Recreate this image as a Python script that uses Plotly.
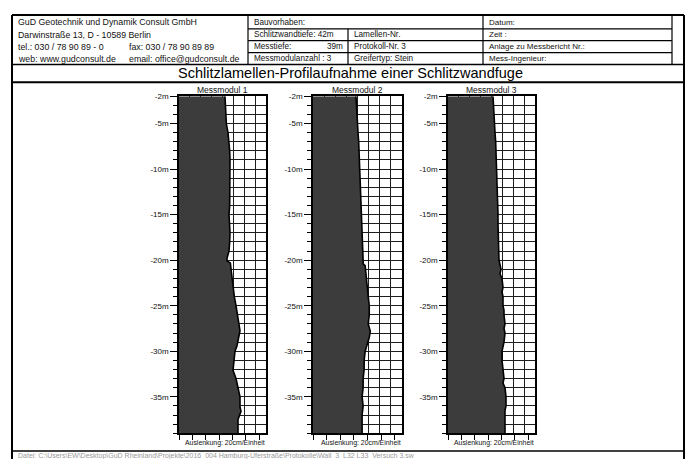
import plotly.graph_objects as go

# ---- measured profiles: depth [m] and wall deflection [cm] from the left reference edge ----
depth_m1 = [-2, -3, -4, -5, -6, -7, -8, -9, -10, -11, -12, -13, -14, -15, -16, -17, -18, -19,
            -19.8, -20.1, -20.3, -21, -22, -23, -24, -25, -26, -26.7, -27.2, -27.75, -28.3, -28.8,
            -29.4, -30, -31, -32.1, -33, -33.9, -35, -36.1, -36.6, -37.5, -38.3, -39]
defl_m1 = [69, 70, 70.5, 71, 73.5, 75, 76, 76.5, 76.5, 77, 76.5, 76.5, 76, 75, 76, 76.5, 76, 75,
           72, 72, 77, 78, 79.5, 81, 83, 85.5, 87.75, 88.5, 90, 91.5, 90, 88.5,
           87, 84, 82.5, 81, 85.5, 88.5, 91.5, 91.5, 93, 88.5, 88.5, 88.5]

depth_m2 = [-2, -3, -4, -5, -6, -7, -8, -9, -10, -11, -12, -13, -14, -15, -16, -17, -18, -19,
            -20, -20.4, -20.6, -21, -22, -23, -24, -25, -26, -27, -27.8, -28.5, -29.4, -30, -31,
            -32, -33, -34, -35, -36, -37, -38, -39]
defl_m2 = [63, 63.5, 64, 64.5, 66, 67, 67.5, 68.5, 69, 70, 70.5, 71, 71.5, 72, 72, 72.5, 73, 73,
           73.5, 73.5, 76.5, 77, 78, 79.5, 81, 82.5, 82.5, 81, 84, 82.5, 79.5, 76.5, 75,
           75, 73.5, 73.5, 72, 73.5, 72, 72, 72]

depth_m3 = [-2, -3, -4, -5, -6, -7, -8, -9, -10, -11, -12, -13, -14, -15, -16, -17, -18, -19,
            -20, -20.5, -21, -21.5, -22, -23, -23.5, -24, -25, -25.5, -26, -27, -27.5, -28, -29,
            -30, -31, -32, -33, -33.5, -34, -35, -36, -36.5, -37, -38, -39]
defl_m3 = [67.5, 68, 68.5, 69, 70.5, 71.5, 72, 73, 73.5, 74, 74, 74.5, 74.5, 75, 75, 75.5, 76, 76,
           76.5, 78, 79.5, 78, 81, 82.5, 81, 82.5, 82.5, 84, 84, 85.5, 84, 85.5, 84,
           81, 81, 82.5, 84, 82.5, 85.5, 87, 87, 85.5, 85.5, 85.5, 85.5]

modules = ["Messmodul 1", "Messmodul 2", "Messmodul 3"]
profiles = [(defl_m1, depth_m1), (defl_m2, depth_m2), (defl_m3, depth_m3)]

depth_ticks = [-2, -5, -10, -15, -20, -25, -30, -35]
depth_labels = ["-2m", "-5m", "-10m", "-15m", "-20m", "-25m", "-30m", "-35m"]
defl_ticks = [0, 20, 40, 60, 80, 100, 120]

header_left = [
    "GuD Geotechnik und Dynamik Consult GmbH",
    "Darwinstraße 13, D - 10589 Berlin",
    "tel.: 030 / 78 90 89 - 0",
    "web: www.gudconsult.de",
]
header_left2 = ["fax: 030 / 78 90 89 89", "email: office@gudconsult.de"]
header_mid = ["Bauvorhaben:", "Schlitzwandtiefe: 42m", "Messtiefe:", "Messmodulanzahl : 3"]
header_mid2 = ["Lamellen-Nr.", "Protokoll-Nr. 3", "Greifertyp: Stein"]
header_right = ["Datum:", "Zeit :", "Anlage zu Messbericht Nr.:", "Mess-Ingenieur:"]
title = "Schlitzlamellen-Profilaufnahme einer Schlitzwandfuge"
scale_note = "Auslenkung: 20cm/Einheit"
footer = ("Datei: C:\\Users\\EW\\Desktop\\GuD Rheinland\\Projekte\\2016_004 Hamburg-Uferstraße"
          "\\Protokolle\\Wall_3_L32 L33_Versuch 3.sw")

W, H = 689, 459
FONT = "Arial, Liberation Sans, sans-serif"


def px(x):
    return x / W


def py(y):
    return 1 - y / H


fig = go.Figure()

# plot panels (pixel extents of each panel)
panel_x = [(179, 266), (313, 402), (448, 535)]
panel_top, panel_bottom = 93, 433

for i, (name, (dx, dy)) in enumerate(zip(modules, profiles)):
    n = i + 1
    xa, ya = ("x" if n == 1 else f"x{n}"), ("y" if n == 1 else f"y{n}")
    fig.add_trace(go.Scatter(
        x=dx, y=dy, mode="lines", fill="tozerox", fillcolor="#3c3c3c",
        line=dict(color="black", width=1.6), xaxis=xa, yaxis=ya,
        showlegend=False, hoverinfo="skip"))
    x0, x1 = panel_x[i]
    fig.update_layout(**{
        f"xaxis{'' if n == 1 else n}": dict(
            domain=[px(x0), px(x1)], anchor=ya, range=[0, 130.5],
            showgrid=False, zeroline=False, showticklabels=False,
            tickmode="array", tickvals=defl_ticks, ticks="outside", ticklen=5,
            tickcolor="black", tickwidth=1,
            showline=True, linecolor="black", linewidth=1.5, mirror=True,
            minor=dict(tickmode="linear", tick0=0, dtick=130.5 / 8, showgrid=True,
                       gridcolor="#1e1e1e", gridwidth=1, ticks=""),
        ),
        f"yaxis{'' if n == 1 else n}": dict(
            domain=[py(panel_bottom), py(panel_top)], anchor=xa, range=[-39, -2],
            tickmode="array", tickvals=depth_ticks, ticktext=depth_labels,
            ticks="outside", ticklen=7, tickcolor="black", tickwidth=1,
            showgrid=True, gridcolor="#1e1e1e", gridwidth=1, zeroline=False,
            showline=True, linecolor="black", linewidth=1.5, mirror=True,
            tickfont=dict(family=FONT, size=8, color="#111"),
            minor=dict(tickmode="linear", tick0=0, dtick=1, ticks="outside", ticklen=4,
                       tickcolor="black", showgrid=True, gridcolor="#1e1e1e", gridwidth=1),
        ),
    })

shapes = []


def hline(y, x0, x1, w=1.2):
    shapes.append(dict(type="line", xref="paper", yref="paper", x0=px(x0), x1=px(x1),
                       y0=py(y), y1=py(y), line=dict(color="black", width=w)))


def vline(x, y0, y1, w=1.2):
    shapes.append(dict(type="line", xref="paper", yref="paper", x0=px(x), x1=px(x),
                       y0=py(y0), y1=py(y1), line=dict(color="black", width=w)))


# outer frame
hline(11, 12, 684, 2)
vline(12, 11, 470, 2)
vline(684, 11, 470, 2)
# header grid
hline(61, 12, 684, 1.5)
hline(79, 12, 684, 2)
vline(248, 11, 61)
vline(483, 11, 61)
vline(672, 11, 61)
vline(348, 25, 61)
for yy in (25, 37, 49):
    hline(yy, 248, 672)
# footer separator
hline(451, 12, 684, 1.5)

annotations = []


def text(s, x, y, size=8, anchor="left", color="#111"):
    annotations.append(dict(text=s, x=px(x), y=py(y), xref="paper", yref="paper",
                            xanchor=anchor, yanchor="middle", showarrow=False,
                            font=dict(family=FONT, size=size, color=color)))


rows = [19, 31, 43, 55]
for s, y in zip(header_left, [18, 31, 43, 55]):
    text(s, 16, y, 8.8)
text(header_left2[0], 127, 43, 8.8)
text(header_left2[1], 127, 55, 8.8)
for s, y in zip(header_mid, rows):
    text(s, 252, y, 8.2)
text("39m", 345, 43, 8.2, anchor="right")
for s, y in zip(header_mid2, rows[1:]):
    text(s, 352, y, 8.2)
for s, y in zip(header_right, rows):
    text(s, 487, y, 8)

text(title, 350, 70, 14.5, anchor="center", color="#000")

for i, name in enumerate(modules):
    x0, x1 = panel_x[i]
    text(name, (x0 + x1) / 2, 87, 8.5, anchor="center")
    text(scale_note, x1 + 1, 443, 6.9, anchor="right")

text(footer, 16, 456, 7, color="#9a9a9a")

fig.update_layout(
    width=W, height=H, autosize=False,
    margin=dict(l=0, r=0, t=0, b=0),
    paper_bgcolor="white", plot_bgcolor="white",
    shapes=shapes, annotations=annotations,
    font=dict(family=FONT),
)

fig.write_html("out.html")
